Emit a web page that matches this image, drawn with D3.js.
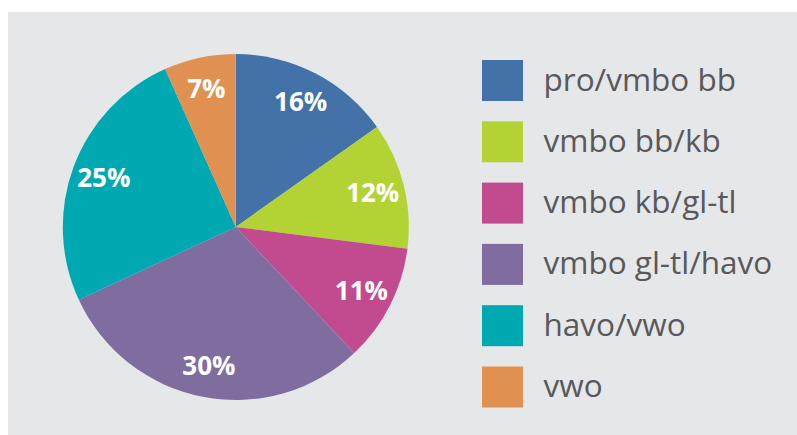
<!DOCTYPE html>
<html>
<head>
<meta charset="utf-8">
<script src="https://cdn.jsdelivr.net/npm/d3@7"></script>
<style>
  html, body { margin: 0; padding: 0; background: #ffffff; }
  svg { display: block; }
</style>
</head>
<body>
<svg id="chart" width="797" height="435"></svg>
<script>
// ---- data ----
const categories = ["pro/vmbo bb", "vmbo bb/kb", "vmbo kb/gl-tl", "vmbo gl-tl/havo", "havo/vwo", "vwo"];
const values = [15.2, 11.8, 11.0, 30.1, 25.2, 6.7];       // slice shares as drawn
const valueLabels = ["16%", "12%", "11%", "30%", "25%", "7%"];
const colors = ["#4272a8", "#b3d335", "#c24b8f", "#7f6d9f", "#00a9b1", "#e09151"];

const svg = d3.select("#chart");
const W = 797, H = 435;

// background panel
svg.append("rect").attr("x", 8).attr("y", 12).attr("width", W - 8).attr("height", H - 12)
  .attr("fill", "#e6e7e8");

const cx = 235.8, cy = 227, R = 173, labelR = 141;

const pie = d3.pie().sort(null).value(d => d)(values);
const arc = d3.arc().innerRadius(0).outerRadius(R);
const labelArc = d3.arc().innerRadius(labelR).outerRadius(labelR);

const g = svg.append("g").attr("transform", `translate(${cx},${cy})`);
g.selectAll("path").data(pie).join("path")
  .attr("d", arc)
  .attr("fill", (d, i) => colors[i]);

g.selectAll("text").data(pie).join("text")
  .attr("transform", d => `translate(${labelArc.centroid(d)})`)
  .attr("text-anchor", "middle")
  .attr("dy", "0.36em")
  .attr("font-family", "'Open Sans', sans-serif")
  .attr("font-weight", 700)
  .attr("font-size", 26)
  .attr("fill", "#ffffff")
  .text((d, i) => valueLabels[i]);

// legend
const legendY = d3.scaleBand().domain(categories).range([60, 60 + 61.3 * 6]).paddingInner(0);
const lg = svg.append("g");
const items = lg.selectAll("g").data(categories).join("g")
  .attr("transform", d => `translate(482,${legendY(d)})`);
items.append("rect").attr("width", 41).attr("height", 41)
  .attr("fill", (d, i) => colors[i]);
items.append("text")
  .attr("x", 61.5).attr("y", 30.5)
  .attr("font-family", "'Open Sans', sans-serif")
  .attr("font-size", 31.5)
  .attr("fill", "#58595b")
  .text(d => d);
</script>
</body>
</html>
